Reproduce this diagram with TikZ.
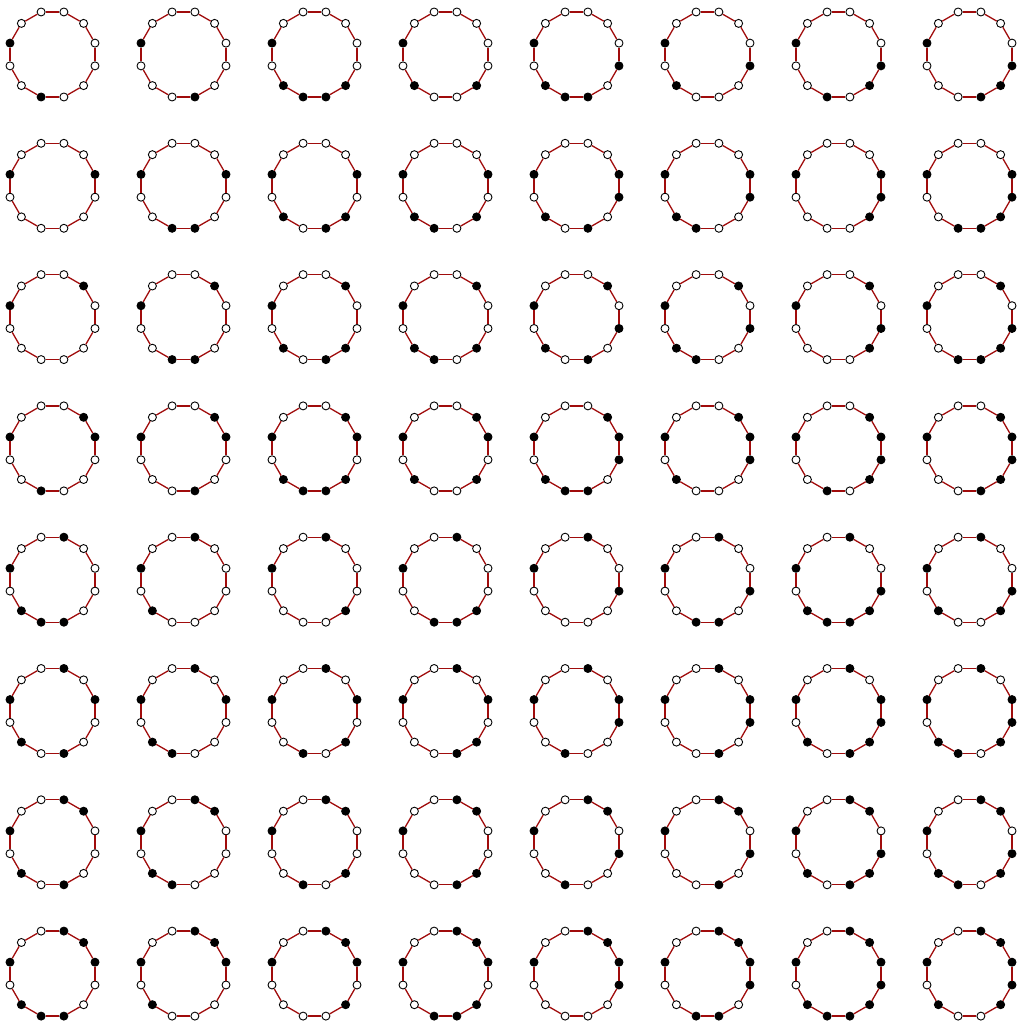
\documentclass[tikz,border=0pt]{standalone}
\definecolor{edgered}{RGB}{160,12,12}
\tikzset{
  v0/.style={circle,draw=black,fill=white,line width=0.9pt,minimum size=8pt,inner sep=0pt},
  v1/.style={v0,fill=black},
  ringedge/.style={draw=edgered,line width=1.3pt}
}
\newcommand\polyring[3]{%
  \foreach \b [count=\k from 0] in {#3}{%
    \node[v\b] (n-#1-#2-\k) at ({52.5+131*(#2-1)+44*cos(15+30*\k)},{971.5-131.3*(#1-1)+44*sin(15+30*\k)}) {};
  }%
  \foreach \k in {0,...,11}{%
    \pgfmathtruncatemacro\nx{mod(\k+1,12)}%
    \draw[ringedge] (n-#1-#2-\k) -- (n-#1-#2-\nx);
  }%
}
\begin{document}
\begin{tikzpicture}[x=1pt,y=1pt]
\useasboundingbox (0,0) rectangle (1019,1026);
% row 1
\polyring{1}{1}{0,0,0,0,0,1,0,0,1,0,0,0}
\polyring{1}{2}{0,0,0,0,0,1,0,0,0,1,0,0}
\polyring{1}{3}{0,0,0,0,0,1,0,1,1,1,1,0}
\polyring{1}{4}{0,0,0,0,0,1,0,1,0,0,1,0}
\polyring{1}{5}{0,0,0,0,0,1,0,1,1,1,0,1}
\polyring{1}{6}{0,0,0,0,0,1,0,1,0,0,0,1}
\polyring{1}{7}{0,0,0,0,0,1,0,0,1,0,1,1}
\polyring{1}{8}{0,0,0,0,0,1,0,0,0,1,1,1}
% row 2
\polyring{2}{1}{1,0,0,0,0,1,0,0,0,0,0,0}
\polyring{2}{2}{1,0,0,0,0,1,0,0,1,1,0,0}
\polyring{2}{3}{1,0,0,0,0,1,0,1,0,1,1,0}
\polyring{2}{4}{1,0,0,0,0,1,0,1,1,0,1,0}
\polyring{2}{5}{1,0,0,0,0,1,0,1,0,1,0,1}
\polyring{2}{6}{1,0,0,0,0,1,0,1,1,0,0,1}
\polyring{2}{7}{1,0,0,0,0,1,0,0,0,0,1,1}
\polyring{2}{8}{1,0,0,0,0,1,0,0,1,1,1,1}
% row 3
\polyring{3}{1}{0,1,0,0,0,1,0,0,0,0,0,0}
\polyring{3}{2}{0,1,0,0,0,1,0,0,1,1,0,0}
\polyring{3}{3}{0,1,0,0,0,1,0,1,0,1,1,0}
\polyring{3}{4}{0,1,0,0,0,1,0,1,1,0,1,0}
\polyring{3}{5}{0,1,0,0,0,1,0,1,0,1,0,1}
\polyring{3}{6}{0,1,0,0,0,1,0,1,1,0,0,1}
\polyring{3}{7}{0,1,0,0,0,1,0,0,0,0,1,1}
\polyring{3}{8}{0,1,0,0,0,1,0,0,1,1,1,1}
% row 4
\polyring{4}{1}{1,1,0,0,0,1,0,0,1,0,0,0}
\polyring{4}{2}{1,1,0,0,0,1,0,0,0,1,0,0}
\polyring{4}{3}{1,1,0,0,0,1,0,1,1,1,1,0}
\polyring{4}{4}{1,1,0,0,0,1,0,1,0,0,1,0}
\polyring{4}{5}{1,1,0,0,0,1,0,1,1,1,0,1}
\polyring{4}{6}{1,1,0,0,0,1,0,1,0,0,0,1}
\polyring{4}{7}{1,1,0,0,0,1,0,0,1,0,1,1}
\polyring{4}{8}{1,1,0,0,0,1,0,0,0,1,1,1}
% row 5
\polyring{5}{1}{0,0,1,0,0,1,0,1,1,1,0,0}
\polyring{5}{2}{0,0,1,0,0,1,0,1,0,0,0,0}
\polyring{5}{3}{0,0,1,0,0,1,0,0,0,0,1,0}
\polyring{5}{4}{0,0,1,0,0,1,0,0,1,1,1,0}
\polyring{5}{5}{0,0,1,0,0,1,0,0,0,0,0,1}
\polyring{5}{6}{0,0,1,0,0,1,0,0,1,1,0,1}
\polyring{5}{7}{0,0,1,0,0,1,0,1,1,1,1,1}
\polyring{5}{8}{0,0,1,0,0,1,0,1,0,0,1,1}
% row 6
\polyring{6}{1}{1,0,1,0,0,1,0,1,0,1,0,0}
\polyring{6}{2}{1,0,1,0,0,1,0,1,1,0,0,0}
\polyring{6}{3}{1,0,1,0,0,1,0,0,1,0,1,0}
\polyring{6}{4}{1,0,1,0,0,1,0,0,0,1,1,0}
\polyring{6}{5}{1,0,1,0,0,1,0,0,1,0,0,1}
\polyring{6}{6}{1,0,1,0,0,1,0,0,0,1,0,1}
\polyring{6}{7}{1,0,1,0,0,1,0,1,0,1,1,1}
\polyring{6}{8}{1,0,1,0,0,1,0,1,1,0,1,1}
% row 7
\polyring{7}{1}{0,1,1,0,0,1,0,1,0,1,0,0}
\polyring{7}{2}{0,1,1,0,0,1,0,1,1,0,0,0}
\polyring{7}{3}{0,1,1,0,0,1,0,0,1,0,1,0}
\polyring{7}{4}{0,1,1,0,0,1,0,0,0,1,1,0}
\polyring{7}{5}{0,1,1,0,0,1,0,0,1,0,0,1}
\polyring{7}{6}{0,1,1,0,0,1,0,0,0,1,0,1}
\polyring{7}{7}{0,1,1,0,0,1,0,1,0,1,1,1}
\polyring{7}{8}{0,1,1,0,0,1,0,1,1,0,1,1}
% row 8
\polyring{8}{1}{1,1,1,0,0,1,0,1,1,1,0,0}
\polyring{8}{2}{1,1,1,0,0,1,0,1,0,0,0,0}
\polyring{8}{3}{1,1,1,0,0,1,0,0,0,0,1,0}
\polyring{8}{4}{1,1,1,0,0,1,0,0,1,1,1,0}
\polyring{8}{5}{1,1,1,0,0,1,0,0,0,0,0,1}
\polyring{8}{6}{1,1,1,0,0,1,0,0,1,1,0,1}
\polyring{8}{7}{1,1,1,0,0,1,0,1,1,1,1,1}
\polyring{8}{8}{1,1,1,0,0,1,0,1,0,0,1,1}
\end{tikzpicture}
\end{document}
